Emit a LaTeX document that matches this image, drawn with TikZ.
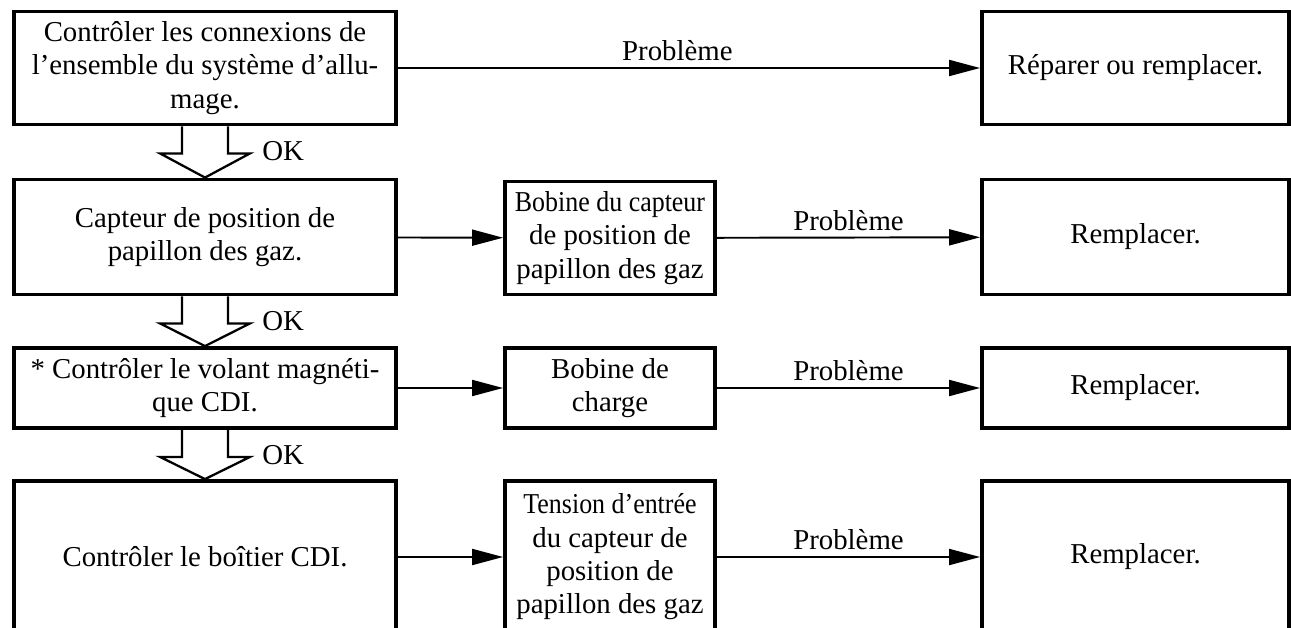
\documentclass[tikz,border=0pt]{standalone}
\usepackage{fontspec}
\setmainfont{Liberation Serif}
\usepackage{graphicx}
\usetikzlibrary{positioning,arrows.meta,calc}

\begin{document}
\begin{tikzpicture}[
  x=0.02cm, y=-0.02cm,
  caja/.style={draw, line width=2.2pt, inner sep=0pt, align=center,
               font=\fontsize{16.4}{19}\selectfont},
  gauche/.style={caja, minimum width=7.64cm},
  milieu/.style={caja, minimum width=4.2cm},
  droite/.style={caja, minimum width=6.14cm},
  fleche/.style={-{Triangle[length=0.62cm,width=0.32cm]}, line width=1.1pt},
  creux/.style={draw, line width=1.3pt, line join=miter},
  lbl/.style={font=\fontsize{16.4}{19}\selectfont},
  ok/.style={lbl, inner sep=0pt, anchor=west}
]
\useasboundingbox (0,0) rectangle (1291,628);
\clip (0,0) rectangle (1291,628);

% colonne de gauche
\node[gauche, minimum height=2.26cm] (ctrl) at (205,68)
  {Contrôler les connexions de\\l’ensemble du système d’allu-\\mage.};
\node[gauche, minimum height=2.3cm] (capt) at (205,237)
  {Capteur de position de\\papillon des gaz.};
\node[gauche, minimum height=1.6cm] (vol) at (205,388)
  {* Contrôler le volant magnéti-\\que CDI.};
\node[gauche, minimum height=3.04cm] (cdi) at (205,557)
  {Contrôler le boîtier CDI.};

% colonne du milieu
\node[milieu, minimum height=2.26cm] (bobcapt) at (610,238)
  {\scalebox{0.9}[1]{Bobine du capteur}\\de position de\\papillon des gaz};
\node[milieu, minimum height=1.6cm] (bobch) at (610,388)
  {Bobine de\\charge};
\node[milieu, minimum height=3.04cm] (tens) at (610,557)
  {\scalebox{0.9}[1]{Tension d’entrée}\\du capteur de\\position de\\papillon des gaz};

% colonne de droite
\node[droite, minimum height=2.26cm] (rep) at (1135.5,68) {Réparer ou remplacer.};
\node[droite, minimum height=2.3cm] (rem1) at (1135.5,237) {Remplacer.};
\node[droite, minimum height=1.6cm] (rem2) at (1135.5,388) {Remplacer.};
\node[droite, minimum height=3.04cm] (rem3) at (1135.5,557) {Remplacer.};

% fleches OK
\draw[creux] ($(ctrl.south)+(-23,0)$) -- ++(0,27) -- ++(-22,0) -- (capt.north)
  -- ($(ctrl.south)+(45,27)$) -- ++(-22,0) -- ++(0,-27);
\draw[creux] ($(capt.south)+(-23,0)$) -- ++(0,27) -- ++(-22,0) -- (vol.north)
  -- ($(capt.south)+(45,27)$) -- ++(-22,0) -- ++(0,-27);
\draw[creux] ($(vol.south)+(-23,0)$) -- ++(0,27) -- ++(-22,0) -- (cdi.north)
  -- ($(vol.south)+(45,27)$) -- ++(-22,0) -- ++(0,-27);
\node[ok] (ok1) at ($(ctrl.south)+(57,25)$) {OK};
\node[ok] (ok2) at ($(capt.south)+(57,25)$) {OK};
\node[ok] (ok3) at ($(vol.south)+(57,25)$) {OK};

\draw[fleche] (ctrl) -- node[lbl, above, pos=.48] {Problème} (rep);
\draw[fleche] (capt) -- (bobcapt);
\draw[fleche] (bobcapt) -- node[lbl, above] {Problème} (rem1);
\draw[fleche] (vol) -- (bobch);
\draw[fleche] (bobch) -- node[lbl, above] {Problème} (rem2);
\draw[fleche] (cdi) -- (tens);
\draw[fleche] (tens) -- node[lbl, above] {Problème} (rem3);

\end{tikzpicture}
\end{document}
